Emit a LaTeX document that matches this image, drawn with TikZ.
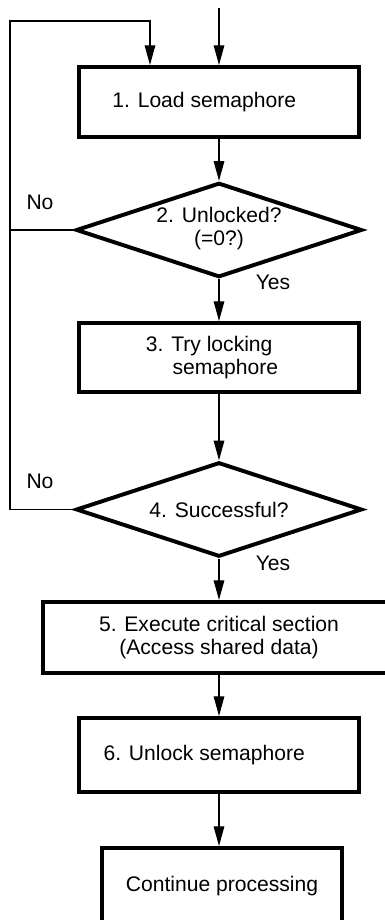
\documentclass[tikz,border=0pt]{standalone}
\usepackage{fontspec}
\setmainfont{Liberation Sans}
\usetikzlibrary{shapes.geometric,arrows.meta}
\begin{document}
\begin{tikzpicture}[x=0.025cm, y=-0.025cm, every node/.style={font=\fontsize{15}{16}\selectfont}, box/.style={rectangle, draw, line width=2.8pt, minimum width=7.02cm, minimum height=1.75cm, align=center}, decision/.style={diamond, draw, line width=2.8pt, aspect=3.04, minimum width=7.15cm, minimum height=2.36cm, inner sep=0pt, align=center}, arrow/.style={line width=0.9pt, -{Triangle[length=14pt, width=7.5pt]}}, link/.style={line width=0.9pt}]

		\useasboundingbox (0,0) rectangle (384,920);

		\coordinate (start) at (219,8);
		\coordinate (loop) at (10,21);

		\node[box] (1) at (219,102) {1. Load semaphore\hspace*{21pt}};
		\node[decision, text depth=5pt] (2) at (219,230) {2. Unlocked?\\(=0?)};
		\node[box, minimum height=1.725cm] (3) at (219,357.5) {3. Try locking\hspace*{14pt}\\\hspace*{9pt}semaphore};

		\node[decision] (4) at (219,509.5) {4. Successful?};
		\node[box, minimum width=8.8cm, minimum height=1.775cm] (5) at (219,637.5) {5. Execute critical section\\(Access shared data)};
		\node[box, minimum height=1.85cm] (6) at (219,755) {6. Unlock semaphore\hspace*{21pt}};

		\node[box, minimum width=6cm, minimum height=1.925cm] (7) at (222,886.5) {Continue processing};

		\node (no1) at (40,202) {No};
		\node (yes1) at (273,282) {Yes};
		\node (no2) at (40,481) {No};
		\node (yes2) at (273,563) {Yes};

		\draw[arrow] (start) -- (start |- 1.north);

		\draw[arrow] (1) -- (2);

		\draw[arrow] (2) -- (3);

		\draw[arrow] (3) -- (4);

		\draw[arrow] (4) -- (5);

		\draw[arrow] (5) -- (6);

		\draw[arrow] (6.south) -- (6.south |- 7.north);

		\draw[arrow] (4.west) -| (loop) -| ([xshift=-1.725cm]1.north);

		\draw[link] (2.west) -- (2.west -| loop);

	\end{tikzpicture}
\end{document}
